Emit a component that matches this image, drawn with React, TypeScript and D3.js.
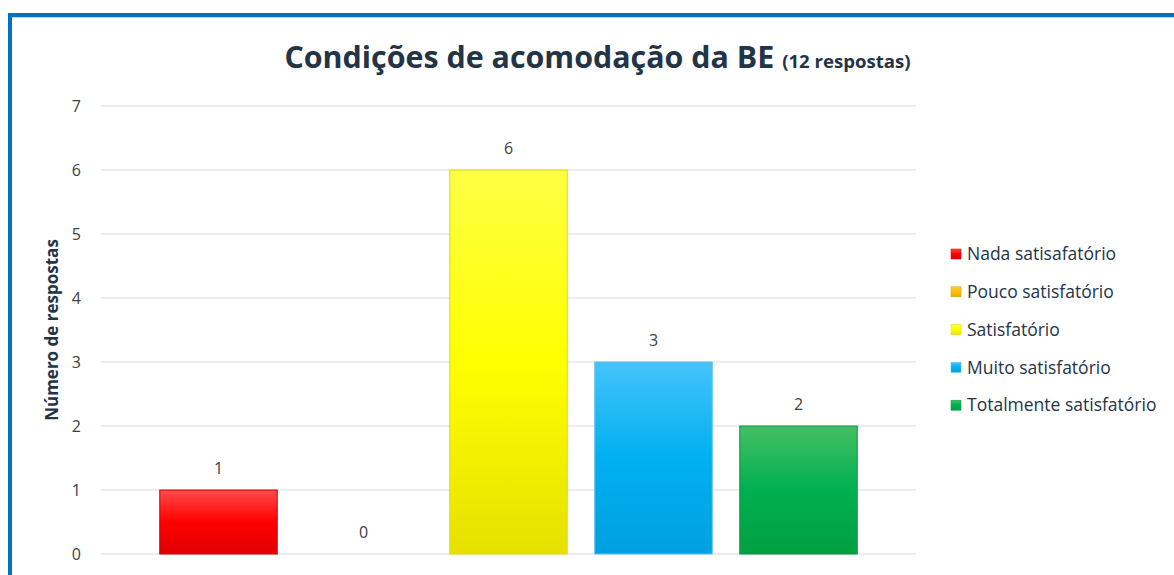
import React from "react";
import * as d3 from "d3";

const categories = ["Nada satisafatório", "Pouco satisfatório", "Satisfatório", "Muito satisfatório", "Totalmente satisfatório"];
const values = [1, 0, 6, 3, 2];
const yTicks = [0, 1, 2, 3, 4, 5, 6, 7];
const colors = [
  ["#FF4A4A", "#FF0000", "#E00000"],
  ["#FFCC40", "#FFC000", "#E6A800"],
  ["#FFFF45", "#FFFF00", "#E6E000"],
  ["#45C3FA", "#00B0F0", "#00A0E0"],
  ["#45BF65", "#00B050", "#00A040"],
];
const borderColors = ["#D00000", "#D9A000", "#E0DC00", "#5AC0F0", "#009A40"];

export default function App() {
  const W = 1174, H = 575;
  const x = d3.scaleBand<string>().domain(categories).range([146, 871]).paddingInner(0.19).paddingOuter(0.095);
  const y = d3.scaleLinear().domain([0, 7]).range([554, 106]);
  const font = "'Open Sans', 'Noto Sans', sans-serif";
  return (
    <div style={{ position: "fixed", left: 0, top: 0 }}>
      <svg width={W} height={H} style={{ display: "block" }}>
        <defs>
          {colors.map((c, i) => (
            <linearGradient key={i} id={`g${i}`} x1="0" y1="0" x2="0" y2="1">
              <stop offset="0" stopColor={c[0]} />
              <stop offset="0.5" stopColor={c[1]} />
              <stop offset="1" stopColor={c[2]} />
            </linearGradient>
          ))}
        </defs>
        <rect x={0} y={0} width={W} height={H} fill="#fff" />
        <rect x={10} y={15} width={W + 20} height={H + 20} fill="none" stroke="#0070C0" strokeWidth={4} />
        <line x1={12} x2={W} y1={17.5} y2={17.5} stroke="#BBD6EE" strokeWidth={1} />
        <text x={597.5} y={68} textAnchor="middle" fontFamily={font} fill="#243447" fontWeight="bold">
          <tspan fontSize={30.4}>Condições de acomodação da BE </tspan>
          <tspan fontSize={18.6}>(12 respostas)</tspan>
        </text>
        {yTicks.map((t) => (
          <g key={t}>
            <line x1={101} x2={916} y1={y(t)} y2={y(t)} stroke="#D9D9D9" strokeWidth={1} />
            <text x={81} y={y(t)} dy="0.35em" textAnchor="end" fontFamily={font} fontSize={16} fill="#404040">{t}</text>
          </g>
        ))}
        <text transform={`translate(58,330) rotate(-90)`} textAnchor="middle" fontFamily={font} fontSize={17} fontWeight="bold" fill="#243447">Número de respostas</text>
        {categories.map((c, i) => {
          const bx = x(c)!;
          const bw = x.bandwidth();
          const v = values[i];
          return (
            <g key={c}>
              {v > 0 && (
                <rect x={bx} y={y(v)} width={bw} height={y(0) - y(v)} fill={`url(#g${i})`} stroke={borderColors[i]} strokeWidth={1} />
              )}
              <text x={bx + bw / 2} y={y(v) - 22} dy="0.35em" textAnchor="middle" fontFamily={font} fontSize={16} fill="#404040">{v}</text>
            </g>
          );
        })}
        {categories.map((c, i) => {
          const ly = 254 + i * 37.8;
          return (
            <g key={c}>
              <rect x={951} y={ly - 5} width={10} height={10} fill={`url(#g${i})`} stroke={borderColors[i]} strokeWidth={0.5} />
              <text x={967} y={ly} dy="0.35em" fontFamily={font} fontSize={17.5} fill="#243447">{c}</text>
            </g>
          );
        })}
      </svg>
    </div>
  );
}
